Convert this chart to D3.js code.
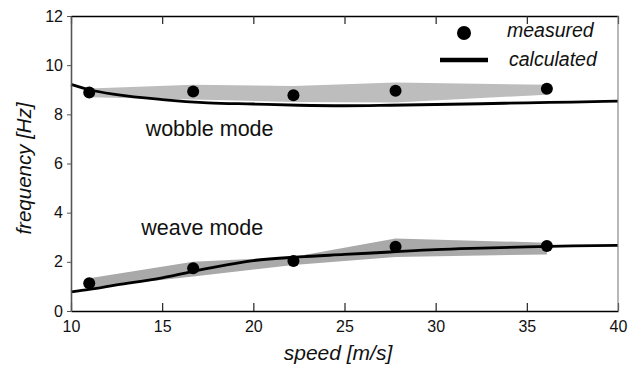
<!DOCTYPE html>
<html>
<head>
<meta charset="utf-8">
<script src="https://cdn.jsdelivr.net/npm/d3@7"></script>
<style>
  body { margin: 0; background: #fff; }
  svg text { font-family: "Liberation Sans", Arial, sans-serif; fill: #111; }
</style>
</head>
<body>
<div class="chart"></div>
<script>
// measured speeds and frequencies
var speeds = [11, 16.7, 22.2, 27.8, 36.1];
var wobbleMeasured = [8.89, 8.93, 8.78, 8.96, 9.04];
var weaveMeasured = [1.13, 1.74, 2.03, 2.61, 2.64];

// spread of measurements (grey bands)
var wobbleHigh = [9.05, 9.2, 9.15, 9.3, 9.2];
var wobbleLow = [8.7, 8.6, 8.5, 8.48, 8.8];
var weaveHigh = [1.33, 2.0, 2.2, 2.95, 2.78];
var weaveLow = [0.95, 1.4, 1.87, 2.2, 2.3];

// calculated curves
var calcSpeeds = [10, 11, 12.5, 15, 17.5, 20, 22.5, 25, 27.5, 30, 32.5, 35, 37.5, 40];
var wobbleCalc = [9.22, 9.0, 8.8, 8.6, 8.47, 8.42, 8.37, 8.35, 8.37, 8.4, 8.43, 8.47, 8.5, 8.54];
var weaveCalc = [0.78, 0.88, 1.06, 1.35, 1.73, 2.05, 2.2, 2.3, 2.4, 2.5, 2.56, 2.61, 2.65, 2.67];

var xTicks = [10, 15, 20, 25, 30, 35, 40];
var yTicks = [0, 2, 4, 6, 8, 10, 12];

var svgWidth = 641, svgHeight = 366;
var margin = { top: 16, right: 23, bottom: 55, left: 71 };
var width = svgWidth - margin.left - margin.right;
var height = svgHeight - margin.top - margin.bottom;

var svg = d3.select(".chart").append("svg")
    .attr("width", svgWidth)
    .attr("height", svgHeight);

var chart = svg.append("g")
    .attr("transform", "translate(" + margin.left + "," + margin.top + ")");

var xScale = d3.scaleLinear().domain([10, 40]).range([0, width]);
var yScale = d3.scaleLinear().domain([0, 12]).range([height, 0]);

// grey bands
function band(high, low) {
  return d3.area()
      .x(function(d, i) { return xScale(speeds[i]); })
      .y0(function(d, i) { return yScale(low[i]); })
      .y1(function(d, i) { return yScale(high[i]); })(speeds);
}
chart.append("path").attr("d", band(wobbleHigh, wobbleLow)).attr("fill", "#bdbdbd");
chart.append("path").attr("d", band(weaveHigh, weaveLow)).attr("fill", "#a9a9a9");

// calculated lines
var line = d3.line()
    .x(function(d, i) { return xScale(calcSpeeds[i]); })
    .y(function(d) { return yScale(d); })
    .curve(d3.curveMonotoneX);

[wobbleCalc, weaveCalc].forEach(function(series) {
  chart.append("path")
      .attr("d", line(series))
      .attr("fill", "none")
      .attr("stroke", "#000")
      .attr("stroke-width", 2.8);
});

// measured points
[wobbleMeasured, weaveMeasured].forEach(function(series) {
  chart.selectAll(null)
      .data(series)
      .enter()
      .append("circle")
      .attr("cx", function(d, i) { return xScale(speeds[i]); })
      .attr("cy", function(d) { return yScale(d); })
      .attr("r", 6)
      .attr("fill", "#000");
});

// axes
var bottomAxis = d3.axisBottom(xScale).tickValues(xTicks).tickSizeInner(-8).tickSizeOuter(0).tickPadding(10);
var topAxis = d3.axisTop(xScale).tickValues(xTicks).tickSizeInner(-8).tickSizeOuter(0).tickFormat("");
var leftAxis = d3.axisLeft(yScale).tickValues(yTicks).tickSizeInner(4).tickSizeOuter(0).tickPadding(4);

var gx = chart.append("g").attr("transform", "translate(0," + height + ")").call(bottomAxis);
gx.selectAll("text").style("font-size", "16px");
gx.select(".domain").attr("stroke", "#000").attr("stroke-width", 1.6);
gx.selectAll(".tick line").attr("stroke", "#222").attr("stroke-width", 1.2);

var gt = chart.append("g").call(topAxis);
gt.select(".domain").attr("stroke", "#000").attr("stroke-width", 1.6);
gt.selectAll(".tick line").attr("stroke", "#222").attr("stroke-width", 1.2);

var gy = chart.append("g").call(leftAxis);
gy.selectAll("text").style("font-size", "16px");
gy.select(".domain").attr("stroke", "#555").attr("stroke-width", 1.6);
gy.selectAll(".tick line").attr("stroke", "#555");

chart.append("line")
    .attr("x1", width).attr("x2", width)
    .attr("y1", 0).attr("y2", height)
    .attr("stroke", "#888").attr("stroke-width", 1.2);

// mode labels
chart.append("text")
    .attr("x", xScale(17.6)).attr("y", yScale(7.1))
    .attr("text-anchor", "middle")
    .style("font-size", "21.5px")
    .text("wobble mode");
chart.append("text")
    .attr("x", xScale(17.2)).attr("y", yScale(3.1))
    .attr("text-anchor", "middle")
    .style("font-size", "21.5px")
    .text("weave mode");

// axis titles
svg.append("text")
    .attr("x", 338).attr("y", 360)
    .attr("text-anchor", "middle")
    .style("font-size", "21px").style("font-style", "italic")
    .text("speed [m/s]");
svg.append("text")
    .attr("transform", "translate(31," + (margin.top + height / 2 + 5) + ") rotate(-90)")
    .attr("text-anchor", "middle")
    .style("font-size", "20.5px").style("font-style", "italic")
    .text("frequency [Hz]");

// legend
var legend = svg.append("g");
legend.append("circle").attr("cx", 464).attr("cy", 33).attr("r", 7).attr("fill", "#000");
legend.append("line").attr("x1", 440).attr("x2", 488).attr("y1", 60).attr("y2", 60)
    .attr("stroke", "#000").attr("stroke-width", 4.5);
legend.append("text").attr("x", 507).attr("y", 37)
    .style("font-size", "19.5px").style("font-style", "italic").text("measured");
legend.append("text").attr("x", 509).attr("y", 66)
    .style("font-size", "19.5px").style("font-style", "italic").text("calculated");
</script>
</body>
</html>
